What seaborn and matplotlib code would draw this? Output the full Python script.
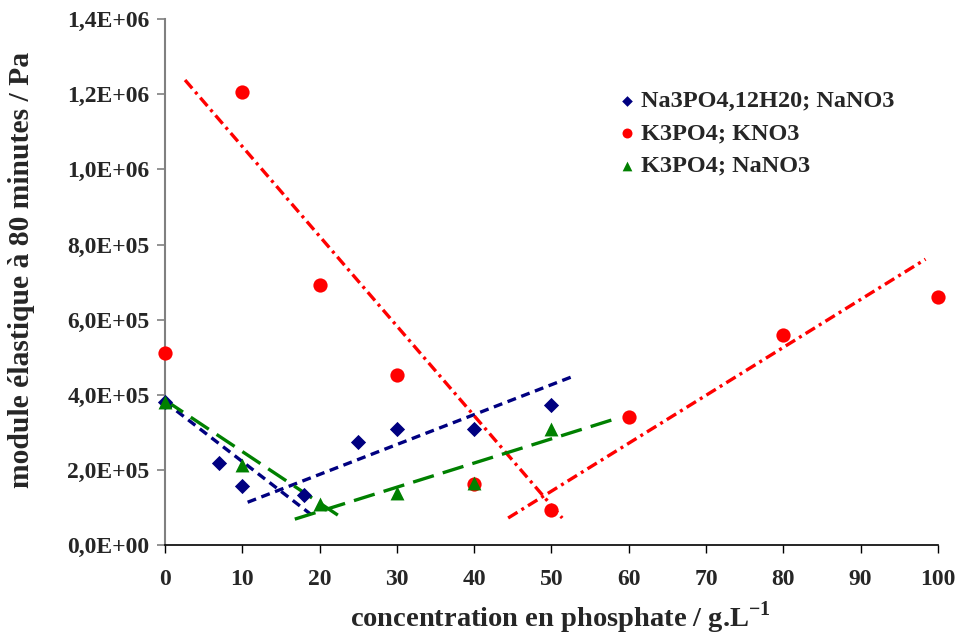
import pandas as pd
import seaborn as sns
import matplotlib.pyplot as plt
from matplotlib.ticker import FuncFormatter, MultipleLocator

# measured points
na_x = [0, 7, 10, 18, 25, 30, 40, 50]
na_y = [3.8e5, 2.18e5, 1.57e5, 1.33e5, 2.74e5, 3.1e5, 3.1e5, 3.72e5]
kk_x = [0, 10, 20, 30, 40, 50, 60, 80, 100]
kk_y = [5.1e5, 1.205e6, 6.92e5, 4.52e5, 1.62e5, 0.93e5, 3.4e5, 5.59e5, 6.6e5]
kn_x = [0, 10, 20, 30, 40, 50]
kn_y = [3.8e5, 2.13e5, 1.09e5, 1.38e5, 1.65e5, 3.1e5]

# trend line segments (x0, x1), (y0, y1)
na_trend = [([0, 18.8], [3.81e5, 0.83e5]), ([10.7, 52.9], [1.14e5, 4.5e5])]
kk_trend = [([2.6, 51.4], [1.238e6, 0.72e5]), ([44.4, 98.4], [0.72e5, 7.61e5])]
kn_trend = [([0, 23.3], [3.86e5, 0.67e5]), ([16.8, 57.8], [0.69e5, 3.33e5])]

labels = ["Na3PO4,12H20; NaNO3", "K3PO4; KNO3", "K3PO4; NaNO3"]

sns.set_style("white")
plt.rcParams["font.family"] = ["Liberation Serif", "DejaVu Serif"]
plt.rcParams["font.weight"] = "bold"
plt.rcParams["mathtext.fontset"] = "custom"
plt.rcParams["mathtext.rm"] = "Liberation Serif:bold"
plt.rcParams["mathtext.bf"] = "Liberation Serif:bold"

fig = plt.figure(figsize=(9.59, 6.39), dpi=100)
ax = fig.add_axes([0.172, 0.147, 0.806, 0.823])

series = [
    (na_x, na_y, na_trend, labels[0], "#000080", "D", 60, (2.7, 1.7)),
    (kk_x, kk_y, kk_trend, labels[1], "#FF0000", "o", 105, (3.3, 1.4, 0.9, 1.4)),
    (kn_x, kn_y, kn_trend, labels[2], "#008000", "^", 100, (6.5, 2.8)),
]

for xs, ys, trend, lab, col, mk, sz, dash in series:
    for tx, ty in trend:
        seg = pd.DataFrame({"x": tx, "y": ty})
        sns.lineplot(data=seg, x="x", y="y", ax=ax, color=col, lw=2.4,
                     dashes=False, linestyle=(0, dash), estimator=None, sort=False)

for xs, ys, trend, lab, col, mk, sz, dash in series:
    df = pd.DataFrame({"x": xs, "y": ys})
    sns.scatterplot(data=df, x="x", y="y", ax=ax, color=col, marker=mk, s=sz,
                    edgecolor=col, linewidth=0, label=lab, zorder=3, clip_on=False)

ax.set_xlim(0, 100)
ax.set_ylim(0, 1.4e6)
ax.xaxis.set_major_locator(MultipleLocator(10))
ax.yaxis.set_major_locator(MultipleLocator(2e5))


def sci_fr(v, pos):
    s = f"{v:.1E}"
    return s.replace(".", ",")


ax.yaxis.set_major_formatter(FuncFormatter(sci_fr))
for sp in ["top", "right"]:
    ax.spines[sp].set_visible(False)
ax.spines["left"].set_color("#808080")
ax.spines["left"].set_linewidth(1.5)
ax.spines["bottom"].set_color("black")
ax.spines["bottom"].set_linewidth(1.2)
ax.tick_params(axis="y", direction="out", length=6, width=1.2, color="#808080",
               labelsize=17, pad=5, left=True)
ax.tick_params(axis="x", direction="out", length=6, width=1.0, color="black",
               labelsize=17, pad=11, bottom=True)
for t in ax.get_xticklabels() + ax.get_yticklabels():
    t.set_fontweight("bold")

ax.set_xlabel("concentration en phosphate / g.L$^{-1}$", fontsize=20.5,
              fontweight="bold")
ax.set_ylabel("module élastique à 80 minutes / Pa", fontsize=21.3,
              fontweight="bold")
ax.xaxis.set_label_coords(0.512, -0.104)
ax.yaxis.set_label_coords(-0.168, 0.523)

leg = ax.legend(loc="upper left", bbox_to_anchor=(0.555, 0.907), frameon=False,
                prop={"size": 17.5, "weight": "bold"}, handletextpad=0.15,
                labelspacing=0.43, markerscale=0.7, handlelength=0.9)

fig.savefig("out.png", dpi=100)
